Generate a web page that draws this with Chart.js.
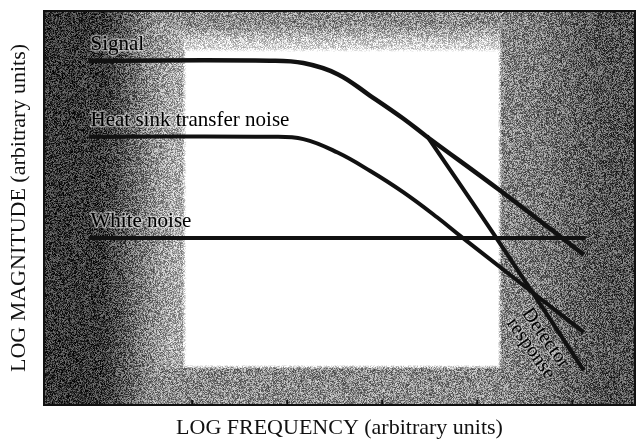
<!DOCTYPE html>
<html>
<head>
<meta charset="utf-8">
<script src="https://cdn.jsdelivr.net/npm/chart.js@4.4.1/dist/chart.umd.min.js"></script>
<style>
    body { margin: 0; background: #fff; }
    .wrap { width: 636px; height: 439px; position: relative; }
</style>
</head>
<body>
<div class="wrap"><canvas id="myChart"></canvas></div>
<script>
// x = log frequency, y = log magnitude, both in arbitrary units
const signalX = [0.91, 2.82, 3.17, 3.53, 3.87, 4.22, 4.47, 5.24, 6.12];
const signalY = [4.96, 4.96, 4.93, 4.79, 4.52, 4.23, 4.00, 3.32, 2.51];

const heatSinkX = [0.91, 2.82, 3.17, 3.53, 3.87, 4.22, 4.58, 4.85, 6.12];
const heatSinkY = [4.00, 4.00, 3.97, 3.80, 3.57, 3.30, 2.98, 2.72, 1.53];

const whiteNoiseX = [0.91, 6.14];
const whiteNoiseY = [2.72, 2.72];

const detectorX = [4.47, 5.24, 6.12];
const detectorY = [4.01, 2.65, 1.05];

const xTicks = [1, 2, 3, 4, 5, 6];
const yTicks = [1, 2, 3, 4, 5];

const xTitle = "LOG FREQUENCY (arbitrary units)";
const yTitle = "LOG MAGNITUDE (arbitrary units)";

// curve labels, anchored in data units
const labels = [
    { text: ["Signal"], x: 0.93, y: 5.10, rotate: 0 },
    { text: ["Heat sink transfer noise"], x: 0.93, y: 4.13, rotate: 0 },
    { text: ["White noise"], x: 0.93, y: 2.86, rotate: 0 },
    { text: ["Detector", "response"], x: 5.64, y: 1.39, rotate: 55 }
];

// the light panel in the middle of the plot (data units)
const panel = { x0: 1.905, x1: 5.24, y0: 1.09, y1: 5.11 };

const serif = "'Liberation Serif', 'DejaVu Serif', serif";
const ink = "#111";

let chart = null;
let texture = null;

function pts(xs, ys) {
    return xs.map((x, i) => ({ x: x, y: ys[i] }));
}

function ss(t) {
    t = Math.max(0, Math.min(1, t));
    return t * t * (3 - 2 * t);
}

function hash(x, y) {
    let h = Math.sin(x * 12.9898 + y * 78.233) * 43758.5453;
    return h - Math.floor(h);
}

function darkness(px, py, p) {
    const dl = p.left - px;
    const dr = px - p.right;
    const dt = p.top - py;
    const db = py - p.bottom;
    let L = dl > -3 ? (0.32 + 0.46 * ss(dl / 90)) * ss((dl + 3) / 5) : 0;
    let R = dr > -3 ? (0.48 + 0.2 * ss(dr / 120)) * ss((dr + 3) / 5) : 0;
    let T = dt > -3 ? (0.15 + 0.3 * ss(dt / 30)) * ss((dt + 3) / 5) : 0;
    let B = db > -3 ? 0.45 * ss((db + 3) / 5) : 0;
    return Math.max(L, R, T, B);
}

function buildTexture(c) {
    const a = c.chartArea;
    const xs = c.scales.x, ys = c.scales.y;
    const p = {
        left: xs.getPixelForValue(panel.x0),
        right: xs.getPixelForValue(panel.x1),
        top: ys.getPixelForValue(panel.y1),
        bottom: ys.getPixelForValue(panel.y0)
    };
    const w = Math.round(a.right - a.left), h = Math.round(a.bottom - a.top);
    const cv = document.createElement("canvas");
    cv.width = w; cv.height = h;
    const g = cv.getContext("2d");
    const img = g.createImageData(w, h);
    for (let y = 0; y < h; y++) {
        for (let x = 0; x < w; x++) {
            const px = a.left + x, py = a.top + y;
            const D = darkness(px, py, p);
            const amp = 290 * Math.sqrt(D * (1 - D));
            let v = 255 * (1 - D) + (hash(px, py) - 0.5) * amp;
            v = Math.max(0, Math.min(255, v));
            const k = (y * w + x) * 4;
            img.data[k] = v; img.data[k + 1] = v; img.data[k + 2] = v; img.data[k + 3] = 255;
        }
    }
    g.putImageData(img, 0, 0);
    return cv;
}

const backdrop = {
    id: "backdrop",
    beforeDatasetsDraw(c) {
        if (!texture) texture = buildTexture(c);
        c.ctx.drawImage(texture, c.chartArea.left, c.chartArea.top);
    },
    afterDatasetsDraw(c) {
        const ctx = c.ctx, a = c.chartArea;
        const xs = c.scales.x, ys = c.scales.y;
        ctx.save();
        ctx.strokeStyle = ink;
        ctx.lineWidth = 2;
        ctx.strokeRect(a.left + 1, a.top + 1, a.right - a.left - 2, a.bottom - a.top - 2);
        ctx.beginPath();
        xs.ticks.forEach(t => {
            const px = xs.getPixelForValue(t.value);
            ctx.moveTo(px, a.bottom);
            ctx.lineTo(px, a.bottom - 6);
        });
        ys.ticks.forEach(t => {
            const py = ys.getPixelForValue(t.value);
            ctx.moveTo(a.left, py);
            ctx.lineTo(a.left + 6, py);
        });
        ctx.stroke();

        ctx.fillStyle = "#000";
        ctx.lineJoin = "round";
        labels.forEach(l => {
            const px = xs.getPixelForValue(l.x), py = ys.getPixelForValue(l.y);
            ctx.save();
            ctx.translate(px, py);
            if (l.rotate) {
                ctx.rotate(l.rotate * Math.PI / 180);
                ctx.textAlign = "center";
                ctx.textBaseline = "middle";
                ctx.font = "20px " + serif;
            } else {
                ctx.textAlign = "left";
                ctx.textBaseline = "alphabetic";
                ctx.font = "21px " + serif;
            }
            const n = l.text.length;
            l.text.forEach((s, i) => {
                const dy = (i - (n - 1) / 2) * 18;
                ctx.strokeStyle = l.rotate ? "rgba(255,255,255,0.25)" : "rgba(255,255,255,0.45)";
                ctx.lineWidth = 3;
                ctx.strokeText(s, 0, dy);
                ctx.fillText(s, 0, dy);
            });
            ctx.restore();
        });
        ctx.restore();
    }
};

function lineSet(xs, ys, w) {
    return {
        data: pts(xs, ys),
        borderColor: ink,
        borderWidth: w,
        pointRadius: 0,
        fill: false,
        tension: 0.4
    };
}

document.addEventListener("DOMContentLoaded", function () {
    chart = new Chart("myChart", {
        type: "line",
        data: {
            datasets: [
                lineSet(signalX, signalY, 4.5),
                lineSet(heatSinkX, heatSinkY, 4),
                lineSet(whiteNoiseX, whiteNoiseY, 4),
                lineSet(detectorX, detectorY, 4)
            ]
        },
        options: {
            animation: false,
            responsive: true,
            maintainAspectRatio: false,
            layout: { padding: { top: 10, right: 0, left: 0, bottom: 0 } },
            plugins: { legend: { display: false }, tooltip: { enabled: false } },
            scales: {
                x: {
                    type: "linear",
                    min: 0.43,
                    max: 6.67,
                    afterBuildTicks: s => { s.ticks = xTicks.map(v => ({ value: v })); },
                    afterFit: s => { s.height = 33; },
                    ticks: { display: false },
                    grid: { display: false },
                    border: { display: false },
                    title: {
                        display: true,
                        text: xTitle,
                        color: ink,
                        font: { family: serif, size: 22 },
                        padding: { top: 0, bottom: -2 }
                    }
                },
                y: {
                    type: "linear",
                    min: 0.6,
                    max: 5.6,
                    afterBuildTicks: s => { s.ticks = yTicks.map(v => ({ value: v })); },
                    afterFit: s => { s.width = 43; },
                    ticks: { display: false },
                    grid: { display: false },
                    border: { display: false },
                    title: {
                        display: true,
                        text: yTitle,
                        color: ink,
                        font: { family: serif, size: 22 },
                        padding: { top: 6, bottom: 0 }
                    }
                }
            }
        },
        plugins: [backdrop]
    });
});
</script>
</body>
</html>
